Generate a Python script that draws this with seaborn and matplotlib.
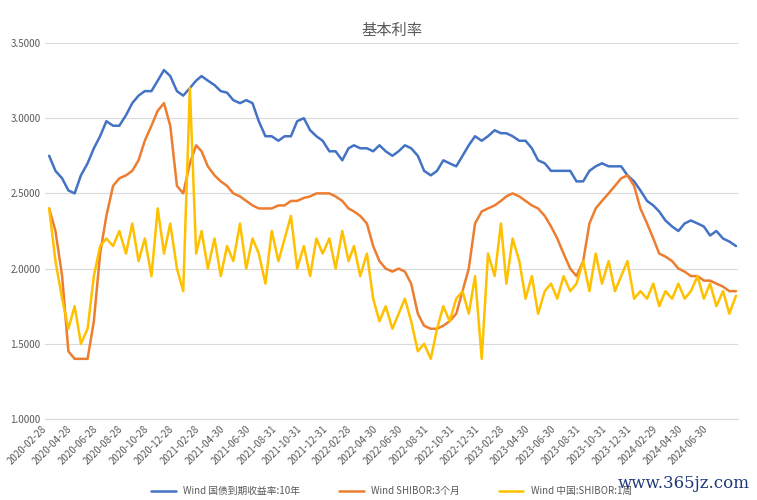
import pandas as pd
import matplotlib.pyplot as plt
import seaborn as sns

sns.set_style("white")
plt.rcParams['font.family'] = ['Noto Sans CJK SC', 'Noto Sans CJK JP', 'DejaVu Sans']

# semi-monthly readings, 2020-02-29 .. 2024-08-31
dates = pd.date_range('2020-02-29', '2024-08-31', freq='SM')

bond_10y = [2.75,
    2.65, 2.60, 2.52, 2.50, 2.62, 2.70, 2.80, 2.88, 2.98, 2.95, 2.95, 3.02, 3.10, 3.15, 3.18, 3.18, 3.25, 3.32, 3.28, 3.18,
    3.15, 3.20, 3.25, 3.28, 3.25, 3.22, 3.18, 3.17, 3.12, 3.10, 3.12, 3.10, 2.98, 2.88, 2.88, 2.85, 2.88, 2.88, 2.98, 3.00, 2.92, 2.88, 2.85, 2.78,
    2.78, 2.72, 2.80, 2.82, 2.80, 2.80, 2.78, 2.82, 2.78, 2.75, 2.78, 2.82, 2.80, 2.75, 2.65, 2.62, 2.65, 2.72, 2.70, 2.68, 2.75, 2.82, 2.88, 2.85,
    2.88, 2.92, 2.90, 2.90, 2.88, 2.85, 2.85, 2.80, 2.72, 2.70, 2.65, 2.65, 2.65, 2.65, 2.58, 2.58, 2.65, 2.68, 2.70, 2.68, 2.68, 2.68, 2.62, 2.58,
    2.52, 2.45, 2.42, 2.38, 2.32, 2.28, 2.25, 2.30, 2.32, 2.30, 2.28, 2.22, 2.25, 2.20, 2.18, 2.15]

shibor_3m = [2.40,
    2.25, 1.95, 1.45, 1.40, 1.40, 1.40, 1.65, 2.10, 2.35, 2.55, 2.60, 2.62, 2.65, 2.72, 2.85, 2.95, 3.05, 3.10, 2.95, 2.55,
    2.50, 2.70, 2.82, 2.78, 2.68, 2.62, 2.58, 2.55, 2.50, 2.48, 2.45, 2.42, 2.40, 2.40, 2.40, 2.42, 2.42, 2.45, 2.45, 2.47, 2.48, 2.50, 2.50, 2.50,
    2.48, 2.45, 2.40, 2.38, 2.35, 2.30, 2.15, 2.05, 2.00, 1.98, 2.00, 1.98, 1.90, 1.70, 1.62, 1.60, 1.60, 1.62, 1.65, 1.70, 1.85, 2.00, 2.30, 2.38,
    2.40, 2.42, 2.45, 2.48, 2.50, 2.48, 2.45, 2.42, 2.40, 2.35, 2.28, 2.20, 2.10, 2.00, 1.95, 2.05, 2.30, 2.40, 2.45, 2.50, 2.55, 2.60, 2.62, 2.55,
    2.40, 2.30, 2.20, 2.10, 2.08, 2.05, 2.00, 1.98, 1.95, 1.95, 1.92, 1.92, 1.90, 1.88, 1.85, 1.85]

shibor_1w = [2.40,
    2.05, 1.80, 1.60, 1.75, 1.50, 1.60, 1.95, 2.15, 2.20, 2.15, 2.25, 2.10, 2.30, 2.05, 2.20, 1.95, 2.40, 2.10, 2.30, 2.00,
    1.85, 3.20, 2.10, 2.25, 2.00, 2.20, 1.95, 2.15, 2.05, 2.30, 2.00, 2.20, 2.10, 1.90, 2.25, 2.05, 2.20, 2.35, 2.00, 2.15, 1.95, 2.20, 2.10, 2.20,
    2.00, 2.25, 2.05, 2.15, 1.95, 2.10, 1.80, 1.65, 1.75, 1.60, 1.70, 1.80, 1.65, 1.45, 1.50, 1.40, 1.60, 1.75, 1.65, 1.80, 1.85, 1.70, 1.95, 1.40,
    2.10, 1.95, 2.30, 1.90, 2.20, 2.05, 1.80, 1.95, 1.70, 1.85, 1.90, 1.80, 1.95, 1.85, 1.90, 2.05, 1.85, 2.10, 1.90, 2.05, 1.85, 1.95, 2.05, 1.80,
    1.85, 1.80, 1.90, 1.75, 1.85, 1.80, 1.90, 1.80, 1.85, 1.95, 1.80, 1.90, 1.75, 1.85, 1.70, 1.82]

tick_labels = ['2020-02-28', '2020-04-28', '2020-06-28', '2020-08-28', '2020-10-28', '2020-12-28',
               '2021-02-28', '2021-04-30', '2021-06-30', '2021-08-31', '2021-10-31', '2021-12-31',
               '2022-02-28', '2022-04-30', '2022-06-30', '2022-08-31', '2022-10-31', '2022-12-31',
               '2023-02-28', '2023-04-30', '2023-06-30', '2023-08-31', '2023-10-31', '2023-12-31',
               '2024-02-29', '2024-04-30', '2024-06-30']

series_names = ['Wind 国债到期收益率:10年', 'Wind SHIBOR:3个月', 'Wind 中国:SHIBOR:1周']
colors = ['#4472C4', '#ED7D31', '#FFC000']

df = pd.DataFrame({'date': dates, series_names[0]: bond_10y,
                   series_names[1]: shibor_3m, series_names[2]: shibor_1w})
long = df.melt(id_vars='date', var_name='series', value_name='rate')

fig, ax = plt.subplots(figsize=(7.57, 5.0), dpi=100)
sns.lineplot(data=long, x='date', y='rate', hue='series', palette=colors,
             hue_order=series_names, linewidth=1.8, ax=ax)

ax.set_title('基本利率', fontsize=11, color='#595959')
ax.set_ylim(1.0, 3.5)
ax.set_yticks([1.0, 1.5, 2.0, 2.5, 3.0, 3.5])
ax.set_yticklabels([f'{v:.4f}' for v in ax.get_yticks()], fontsize=7, color='#595959')
ax.set_xlim(pd.Timestamp('2020-02-20'), pd.Timestamp('2024-09-05'))
ax.set_xticks(pd.to_datetime(tick_labels))
ax.set_xticklabels(tick_labels, rotation=45, ha='right', fontsize=7, color='#595959')
ax.grid(axis='y', color='#D9D9D9', linewidth=0.8)
ax.set_xlabel('')
ax.set_ylabel('')
for s in ['top', 'right', 'left']:
    ax.spines[s].set_visible(False)
ax.spines['bottom'].set_color('#D9D9D9')
ax.tick_params(length=0)

ax.legend(loc='upper center', bbox_to_anchor=(0.5, -0.155), ncol=3, frameon=False,
          fontsize=7, handlelength=2.5, columnspacing=4, labelcolor='#595959')
fig.text(0.99, 0.015, 'www.365jz.com', ha='right', va='bottom', fontsize=12,
         color='#1F3A7A', family='DejaVu Serif')

plt.subplots_adjust(left=0.06, right=0.975, top=0.914, bottom=0.162)
plt.savefig('out.png', dpi=100)
